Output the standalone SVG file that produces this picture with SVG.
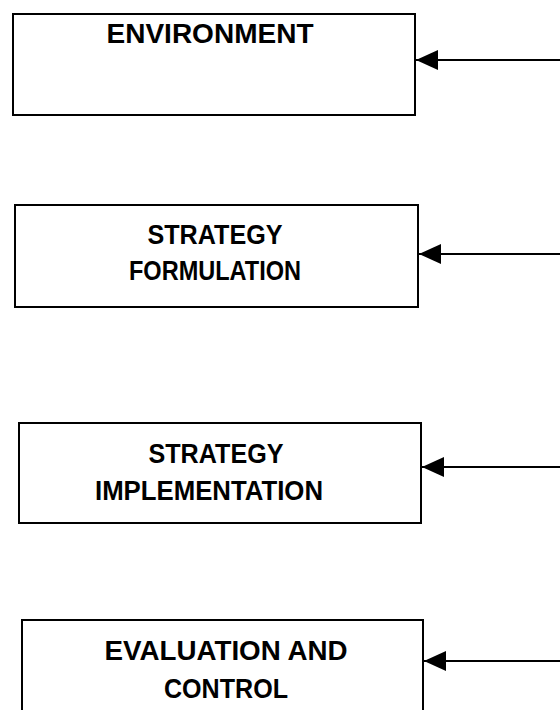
<svg xmlns="http://www.w3.org/2000/svg" width="560" height="710" viewBox="0 0 560 710">
<defs>
<style>
.box{fill:#fff;stroke:#000;stroke-width:2}
.lbl{font-family:"Liberation Sans",Arial,sans-serif;font-weight:bold;font-size:27px;fill:#000;text-anchor:middle}
.conn{stroke:#000;stroke-width:2;fill:none}
</style>
<marker id="ah" markerWidth="24" markerHeight="22" refX="22" refY="11" orient="auto" markerUnits="userSpaceOnUse">
<path d="M0,1 L22,11 L0,21 Z" fill="#000"/>
</marker>
</defs>
<rect width="560" height="710" fill="#fff"/>
<g id="environment">
<rect class="box" x="13" y="14" width="402" height="101"/>
<text class="lbl" x="210" y="43" textLength="207" lengthAdjust="spacingAndGlyphs">ENVIRONMENT</text>
</g>
<g id="strategy-formulation">
<rect class="box" x="15" y="205" width="403" height="102"/>
<text class="lbl" x="215" y="244" textLength="135" lengthAdjust="spacingAndGlyphs">STRATEGY</text>
<text class="lbl" x="215" y="280" textLength="172" lengthAdjust="spacingAndGlyphs">FORMULATION</text>
</g>
<g id="strategy-implementation">
<rect class="box" x="19" y="423" width="402" height="100"/>
<text class="lbl" x="216" y="463" textLength="135" lengthAdjust="spacingAndGlyphs">STRATEGY</text>
<text class="lbl" x="209" y="500" textLength="228" lengthAdjust="spacingAndGlyphs">IMPLEMENTATION</text>
</g>
<g id="evaluation-control">
<rect class="box" x="22" y="620" width="401" height="100"/>
<text class="lbl" x="226" y="660" textLength="243" lengthAdjust="spacingAndGlyphs">EVALUATION AND</text>
<text class="lbl" x="226" y="698" textLength="124" lengthAdjust="spacingAndGlyphs">CONTROL</text>
</g>
<g id="connectors">
<line class="conn" x1="560" y1="60" x2="416" y2="60" marker-end="url(#ah)"/>
<line class="conn" x1="560" y1="254" x2="419" y2="254" marker-end="url(#ah)"/>
<line class="conn" x1="560" y1="467" x2="422" y2="467" marker-end="url(#ah)"/>
<line class="conn" x1="560" y1="661" x2="424" y2="661" marker-end="url(#ah)"/>
</g>
</svg>
